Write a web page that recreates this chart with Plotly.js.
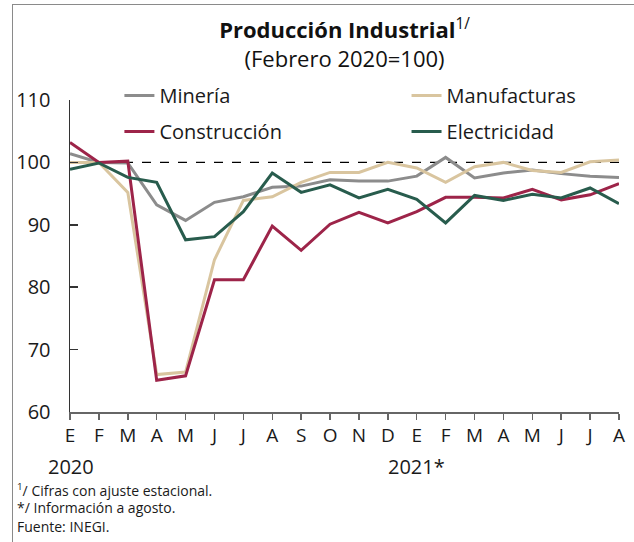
<!DOCTYPE html>
<html>
<head>
<meta charset="utf-8">
<script src="https://cdn.plot.ly/plotly-3.0.1.min.js"></script>
<style>
html,body{margin:0;padding:0;background:#fff;}
#wrap{position:relative;width:634px;height:542px;}
#chart{position:absolute;left:0;top:0;width:634px;height:542px;}
#frame{position:absolute;left:12px;top:4px;width:622px;height:538px;border-left:1.5px solid #8a8a8a;border-top:1.5px solid #8a8a8a;pointer-events:none;}
</style>
</head>
<body>
<div id="wrap"><div id="chart"></div><div id="frame"></div></div>
<script>
// Month labels (E 2020 ... A 2021)
const months = ["E","F","M","A","M","J","J","A","S","O","N","D","E","F","M","A","M","J","J","A"];
const mineria      = [101.4,100.0,99.9,93.2,90.7,93.6,94.5,96.0,96.2,97.2,97.0,97.0,97.8,100.8,97.5,98.3,98.8,98.2,97.8,97.6];
const manufacturas = [100.0,100.0,95.2,66.0,66.4,84.4,93.9,94.5,96.8,98.4,98.4,100.0,99.1,96.8,99.3,100.0,98.7,98.4,100.1,100.4];
const construccion = [103.2,100.0,100.2,65.1,65.8,81.2,81.2,89.8,85.9,90.1,92.0,90.3,92.1,94.4,94.4,94.3,95.7,94.0,94.8,96.6];
const electricidad = [98.9,99.9,97.6,96.8,87.6,88.1,92.1,98.3,95.2,96.4,94.3,95.7,94.1,90.3,94.7,93.9,94.9,94.3,95.9,93.4];
const names = ["Minería","Manufacturas","Construcción","Electricidad"];
const colors = ["#8c8c8c","#d9c59f","#9d2449","#285c4d"];
const xs = months.map((m,i)=>i);

const FONT = "Open Sans, sans-serif";
const series = [mineria, manufacturas, construccion, electricidad];
const legendOf = ["legend","legend2","legend","legend2"];
const traces = series.map((s,k)=>({
  x: xs, y: s, type:"scatter", mode:"lines", name:names[k],
  line:{color:colors[k], width:3},
  legend: legendOf[k], legendgroup: "g"+k
}));

const layout = {
  width:634, height:542,
  margin:{l:70, r:15, t:100, b:130},
  paper_bgcolor:"#fff", plot_bgcolor:"#fff",
  font:{family:FONT, color:"#1a1a1a"},
  showlegend:true,
  title:{
    text:"<b>Producción Industrial</b><sup>1/</sup><br>(Febrero 2020=100)",
    font:{family:FONT, size:22, color:"#111"},
    x:0.5, xref:"paper", xanchor:"center",
    y:0.93, yref:"container", yanchor:"top"
  },
  xaxis:{
    range:[0,19], tickmode:"array", tickvals:xs, ticktext:months,
    showline:true, linecolor:"#666", linewidth:1.5,
    ticks:"outside", ticklen:6, tickcolor:"#666", tickwidth:1.5,
    showgrid:false, zeroline:false, fixedrange:true,
    tickfont:{family:FONT, size:19, color:"#1a1a1a"}
  },
  yaxis:{
    range:[60,110], tickvals:[60,70,80,90,100,110],
    showline:true, linecolor:"#333", linewidth:1.5,
    ticks:"inside", ticklen:8, tickcolor:"#333", tickwidth:1.5,
    ticklabelstandoff:14,
    showgrid:false, zeroline:false,
    tickfont:{family:FONT, size:20, color:"#1a1a1a"}
  },
  legend:{
    x:0.09, xanchor:"left", y:1.077, yanchor:"top",
    bgcolor:"rgba(0,0,0,0)", font:{family:FONT, size:20, color:"#1a1a1a"},
    tracegroupgap:7, orientation:"v"
  },
  legend2:{
    x:0.613, xanchor:"left", y:1.077, yanchor:"top",
    bgcolor:"rgba(0,0,0,0)", font:{family:FONT, size:20, color:"#1a1a1a"},
    tracegroupgap:7, orientation:"v"
  },
  shapes:[{
    type:"line", xref:"paper", x0:0, x1:1, yref:"y", y0:100, y1:100,
    line:{color:"#000", width:1.3, dash:"dash"}, layer:"below"
  }],
  annotations:[
    {text:"2020", xref:"x", x:0.05, yref:"paper", y:-0.124, yanchor:"top", xanchor:"center", showarrow:false, font:{family:FONT,size:20,color:"#1a1a1a"}},
    {text:"2021*", xref:"x", x:12.0, yref:"paper", y:-0.124, yanchor:"top", xanchor:"center", showarrow:false, font:{family:FONT,size:20,color:"#1a1a1a"}},
    {text:"<sup>1</sup>/ Cifras con ajuste estacional.", xref:"paper", x:-0.1, xanchor:"left", yref:"paper", y:-0.21, yanchor:"top", showarrow:false, align:"left", font:{family:FONT,size:14,color:"#1a1a1a"}},
    {text:"*/ Información a agosto.", xref:"paper", x:-0.1, xanchor:"left", yref:"paper", y:-0.269, yanchor:"top", showarrow:false, align:"left", font:{family:FONT,size:14,color:"#1a1a1a"}},
    {text:"Fuente: INEGI.", xref:"paper", x:-0.1, xanchor:"left", yref:"paper", y:-0.329, yanchor:"top", showarrow:false, align:"left", font:{family:FONT,size:14,color:"#1a1a1a"}}
  ]
};
Plotly.newPlot("chart", traces, layout, {displayModeBar:false, staticPlot:true});
</script>
</body>
</html>
